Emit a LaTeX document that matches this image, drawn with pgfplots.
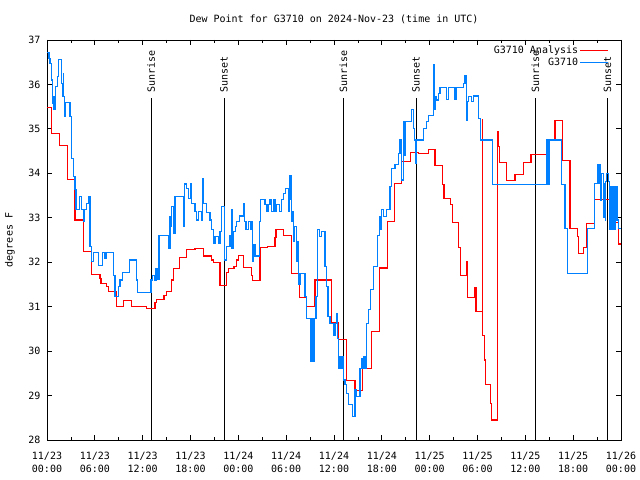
\documentclass[border=0pt]{standalone}
\usepackage{fontspec}
\setmainfont{DejaVu Sans Mono}
\usepackage{pgfplots}
\pgfplotsset{compat=1.18}
\definecolor{anared}{RGB}{255,0,0}
\definecolor{obsblue}{RGB}{0,128,255}
\begin{document}
\fontsize{10bp}{12bp}\selectfont
\begin{tikzpicture}
\useasboundingbox (0,0) rectangle (640bp,480bp);
\begin{axis}[
  at={(47bp,40bp)}, anchor=south west,
  width=574bp, height=400bp, scale only axis,
  xmin=0, xmax=72, ymin=28, ymax=37,
  xtick={0,6,...,72},
  xticklabels={{11/23\\00:00},{11/23\\06:00},{11/23\\12:00},{11/23\\18:00},{11/24\\00:00},{11/24\\06:00},{11/24\\12:00},{11/24\\18:00},{11/25\\00:00},{11/25\\06:00},{11/25\\12:00},{11/25\\18:00},{11/26\\00:00}},
  minor xtick={3,9,...,69},
  ytick={28,29,...,37},
  tick align=inside,
  major tick length=5bp, minor tick length=3bp,
  every tick/.style={black, line width=0.8bp},
  axis line style={black, line width=0.8bp},
  /pgf/number format/assume math mode=true,
  tick label style={font=\fontsize{10bp}{13bp}\selectfont},
  xticklabel style={align=center, yshift=-9bp},
  yticklabel style={xshift=-3bp},
  title={Dew Point for G3710 on 2024-Nov-23 (time in UTC)},
  title style={at={(axis description cs:0.5,1.028)}, anchor=base, font=\fontsize{10bp}{12bp}\selectfont},
  ylabel={degrees F},
  every axis y label/.style={at={(axis description cs:-0.0645,0.5)}, anchor=center, rotate=90, font=\fontsize{10bp}{12bp}\selectfont},
  legend style={draw=none, fill=none, at={(axis description cs:0.979,0.99)}, anchor=north east, font=\fontsize{10bp}{12bp}\selectfont, inner sep=0pt, row sep=0pt, nodes={inner sep=1.5bp}},
  legend cell align=right,
  legend plot pos=right,
  legend image code/.code={\draw[#1] (0bp,0bp) -- (28bp,0bp);},
]
% sunrise / sunset markers
\addplot[black, line width=0.8bp, forget plot] coordinates {(13.05,28) (13.05,35.70)};
\addplot[black, line width=0.8bp, forget plot] coordinates {(22.20,28) (22.20,35.70)};
\addplot[black, line width=0.8bp, forget plot] coordinates {(37.17,28) (37.17,35.70)};
\addplot[black, line width=0.8bp, forget plot] coordinates {(46.29,28) (46.29,35.70)};
\addplot[black, line width=0.8bp, forget plot] coordinates {(61.26,28) (61.26,35.70)};
\addplot[black, line width=0.8bp, forget plot] coordinates {(70.29,28) (70.29,35.70)};
\node[rotate=90, anchor=west, inner sep=0pt] at (axis cs:13.05,35.81) {Sunrise};
\node[rotate=90, anchor=west, inner sep=0pt] at (axis cs:22.20,35.81) {Sunset};
\node[rotate=90, anchor=west, inner sep=0pt] at (axis cs:37.17,35.81) {Sunrise};
\node[rotate=90, anchor=west, inner sep=0pt] at (axis cs:46.29,35.81) {Sunset};
\node[rotate=90, anchor=west, inner sep=0pt] at (axis cs:61.26,35.81) {Sunrise};
\node[rotate=90, anchor=west, inner sep=0pt] at (axis cs:70.29,35.81) {Sunset};

\addplot[const plot, color=anared, line width=1.1bp] coordinates {
(0,35.49) (0.59,34.90) (1.55,34.63) (2.55,33.87) (3.51,32.95) (4.56,32.25) (5.60,31.73) (6.65,31.64) (6.77,31.53) (7.48,31.45) (7.69,31.34) (8.74,31.00) (9.57,31.13) (10.62,31.00) (12.50,30.96) (13.55,31.10) (13.76,31.17) (14.68,31.26) (15.01,31.35) (15.64,31.60) (15.85,31.86) (16.60,32.10) (17.52,32.28) (18.56,32.31) (19.61,32.14) (20.66,32.05) (20.86,31.99) (21.70,31.47) (22.54,31.77) (22.75,31.86) (23.46,31.90) (23.79,32.05) (24.00,32.16) (24.63,31.88) (25.67,31.70) (25.80,31.58) (26.72,32.34) (27.64,32.36) (28.60,32.55) (28.73,32.74) (29.64,32.60) (30.69,31.74) (31.65,31.20) (32.57,31.00) (33.62,31.60) (35.71,30.64) (36.54,30.27) (37.59,29.33) (38.63,29.11) (39.60,29.61) (40.73,30.45) (41.69,31.87) (42.75,32.91) (43.55,33.78) (44.45,34.26) (45.62,34.47) (46.58,34.44) (47.83,34.53) (48.67,34.18) (49.63,33.75) (49.80,33.44) (50.64,33.30) (50.87,32.90) (51.60,32.34) (51.85,31.71) (52.64,32.01) (52.80,31.21) (53.68,31.42) (53.81,30.90) (54.60,33.03) (54.62,30.90) (54.64,35.20) (54.68,30.36) (54.85,29.80) (55.00,29.24) (55.65,28.83) (55.75,28.45) (56.49,34.95) (56.60,34.60) (56.74,34.25) (57.66,33.83) (58.71,33.98) (59.75,34.25) (60.71,34.43) (62.68,34.75) (63.72,35.18) (64.68,34.28) (65.60,32.76) (66.50,32.58) (66.65,32.20) (67.28,32.34) (67.70,32.88) (68.66,33.42) (70.62,32.90) (71.67,32.41) (72.00,32.41)
};
\addlegendentry{G3710 Analysis}

\addplot[const plot, color=obsblue, line width=1.1bp] coordinates {
(0,36.72) (0.25,36.59) (0.38,36.47) (0.59,36.10) (0.65,35.58) (0.71,35.73) (0.88,35.44) (1.09,35.95) (1.30,36.18) (1.42,36.57) (1.84,36.03) (1.92,35.73) (2.05,36.25) (2.10,35.73) (2.17,35.29) (2.26,35.59) (2.88,35.28) (3.09,34.34) (3.30,33.93) (3.51,33.63) (3.64,33.18) (4.06,33.48) (4.35,33.18) (4.56,32.91) (4.68,33.18) (4.97,33.33) (5.18,33.48) (5.39,32.35) (5.60,32.01) (5.81,32.21) (6.44,31.92) (6.98,32.21) (7.19,32.09) (7.40,32.21) (8.32,31.71) (8.53,31.23) (8.95,31.45) (9.16,31.60) (9.49,31.77) (10.33,32.05) (11.25,31.60) (11.37,31.32) (13.05,31.60) (13.26,31.71) (13.46,31.60) (13.67,31.86) (13.84,31.62) (14.05,32.61) (15.22,32.31) (15.43,33.03) (15.53,32.80) (15.64,33.25) (15.85,32.65) (16.06,33.48) (17.18,32.80) (17.30,33.76) (17.52,33.66) (17.73,33.44) (17.95,33.76) (18.14,33.33) (18.56,33.14) (18.75,32.95) (18.98,33.14) (19.40,32.95) (19.50,33.89) (19.61,33.33) (20.03,33.12) (20.45,32.95) (20.65,32.73) (20.86,32.43) (21.07,32.58) (21.49,32.43) (21.70,32.70) (21.91,33.25) (22.25,32.05) (22.54,32.35) (22.96,32.61) (23.10,32.31) (23.17,33.18) (23.30,32.31) (23.45,32.69) (23.59,32.80) (23.79,32.91) (24.12,33.04) (24.63,33.33) (24.75,32.91) (24.96,32.73) (25.25,32.91) (25.54,32.73) (25.65,32.91) (25.80,32.01) (25.95,32.40) (26.09,32.14) (26.64,32.91) (26.80,33.42) (27.35,33.29) (27.60,33.14) (27.80,33.29) (27.97,33.42) (28.20,33.14) (28.40,33.42) (28.60,33.14) (28.81,33.29) (29.20,33.14) (29.45,33.42) (29.65,33.55) (29.86,33.66) (30.28,33.14) (30.40,33.42) (30.48,33.96) (30.69,32.91) (30.80,33.14) (30.90,32.46) (31.10,32.80) (31.32,32.01) (31.40,32.46) (31.53,31.49) (31.74,31.75) (32.36,31.23) (32.50,30.74) (33.07,29.76) (33.17,30.74) (33.27,29.76) (33.37,30.74) (33.47,29.76) (33.57,30.74) (33.74,31.23) (33.91,32.73) (34.16,32.58) (34.45,32.70) (34.87,31.90) (35.08,31.45) (35.25,30.78) (35.50,30.63) (35.92,30.36) (36.13,30.63) (36.35,30.85) (36.45,30.29) (36.55,29.61) (36.70,29.88) (36.84,29.61) (37.00,29.88) (37.17,29.35) (37.38,29.24) (37.59,29.05) (37.80,28.79) (38.34,28.52) (38.63,29.13) (38.84,28.97) (39.26,29.61) (39.47,29.84) (39.60,29.61) (39.75,29.88) (39.89,29.61) (40.10,30.63) (40.31,30.93) (40.60,31.38) (40.93,31.90) (41.43,32.60) (41.68,33.03) (41.85,32.73) (41.98,33.18) (42.19,33.03) (42.53,33.18) (43.03,33.70) (43.24,34.11) (43.65,34.19) (44.07,34.45) (44.28,34.75) (44.50,33.85) (44.70,35.16) (44.80,34.40) (44.91,35.16) (45.74,35.43) (45.95,35.00) (46.10,34.75) (46.20,34.23) (46.37,34.75) (47.21,35.01) (47.63,35.16) (47.84,35.30) (48.46,36.44) (48.55,35.43) (48.70,35.73) (48.80,35.65) (49.09,35.80) (49.30,35.93) (50.13,35.67) (50.34,35.93) (51.18,35.67) (51.39,35.93) (52.22,36.03) (52.43,36.21) (52.64,35.20) (52.75,35.61) (52.85,35.73) (53.27,35.61) (53.48,35.74) (54.11,35.23) (54.32,34.75) (55.85,33.75) (62.60,34.75) (62.70,33.75) (62.80,34.75) (62.95,33.75) (63.05,34.75) (64.56,33.75) (64.98,32.75) (65.27,31.75) (67.78,32.75) (68.70,33.78) (69.10,34.19) (69.20,33.78) (69.30,34.19) (69.45,33.40) (69.60,34.00) (69.79,33.00) (69.90,33.78) (70.00,32.95) (70.10,33.81) (70.21,34.00) (70.42,33.81) (70.55,32.73) (70.62,33.70) (70.75,32.73) (70.85,33.70) (71.00,32.73) (71.10,33.70) (71.25,32.73) (71.35,33.70) (71.50,32.95) (71.67,32.75) (72.00,32.75)
};
\addlegendentry{G3710}
\end{axis}
\end{tikzpicture}
\end{document}
